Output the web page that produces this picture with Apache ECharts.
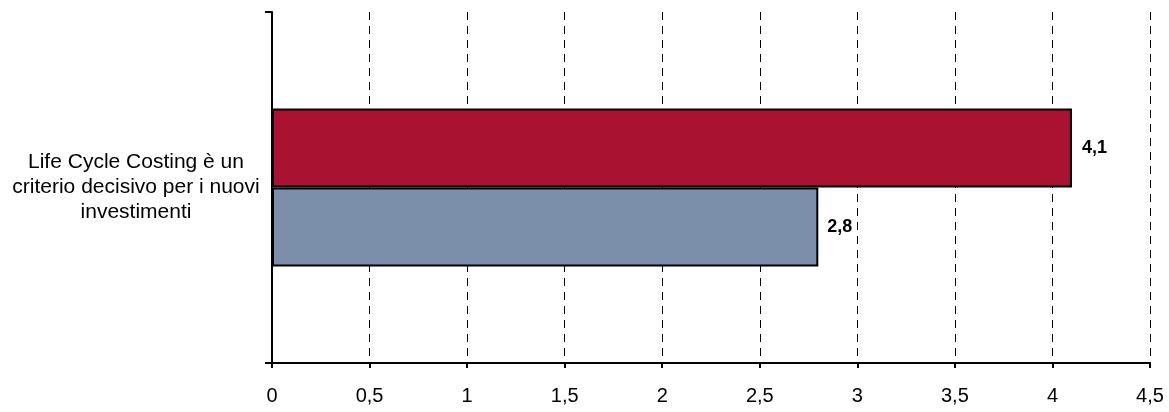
<!DOCTYPE html>
<html><head><meta charset="utf-8">
<script src="https://cdn.jsdelivr.net/npm/echarts@6/dist/echarts.min.js"></script>
<style>html,body{margin:0;padding:0;background:#fff}#c{width:1169px;height:412px}</style>
</head><body><div id="c"></div>
<script>
var categories = ['Life Cycle Costing è un\ncriterio decisivo per i nuovi\ninvestimenti'];
var seriesRed = [4.1];
var seriesBlue = [2.8];
var xTicks = [0, 0.5, 1, 1.5, 2, 2.5, 3, 3.5, 4, 4.5];

var chart = echarts.init(document.getElementById('c'), null, {renderer: 'canvas'});
var fmt = function (v) { return String(v).replace('.', ','); };
var font = 'Liberation Sans, Arial, sans-serif';
chart.setOption({
  animation: false,
  grid: {left: 272, right: 19, top: 12, bottom: 49, containLabel: false},
  xAxis: {
    type: 'value', min: xTicks[0], max: xTicks[xTicks.length - 1], interval: 0.5,
    axisLine: {show: true, lineStyle: {color: '#000', width: 2}},
    axisTick: {show: true, length: 5, lineStyle: {color: '#000', width: 2}},
    axisLabel: {color: '#000', fontFamily: font, fontSize: 20, margin: 23, formatter: fmt},
    splitLine: {show: true, lineStyle: {color: '#000', type: [8, 6], width: 1}}
  },
  yAxis: {
    type: 'category', data: categories, inverse: true,
    axisLine: {show: true, lineStyle: {color: '#000', width: 2}},
    axisTick: {show: true, length: 7, lineStyle: {color: '#000', width: 2}},
    axisLabel: {color: '#000', fontFamily: font, fontSize: 21, lineHeight: 25, align: 'center', margin: 136, padding: [6, 0, 0, 0]}
  },
  series: [
    {type: 'bar', data: seriesRed, barWidth: 79, barGap: '0%',
     itemStyle: {color: '#A91230', borderColor: '#000', borderWidth: 2},
     label: {show: true, position: 'right', distance: 10, color: '#000', fontWeight: 'bold', fontFamily: font, fontSize: 18, formatter: function (p) { return fmt(p.value); }}},
    {type: 'bar', data: seriesBlue, barWidth: 79, barGap: '0%',
     itemStyle: {color: '#7B8FAA', borderColor: '#000', borderWidth: 2},
     label: {show: true, position: 'right', distance: 9, color: '#000', fontWeight: 'bold', fontFamily: font, fontSize: 18, formatter: function (p) { return fmt(p.value); }}}
  ]
});
</script></body></html>
